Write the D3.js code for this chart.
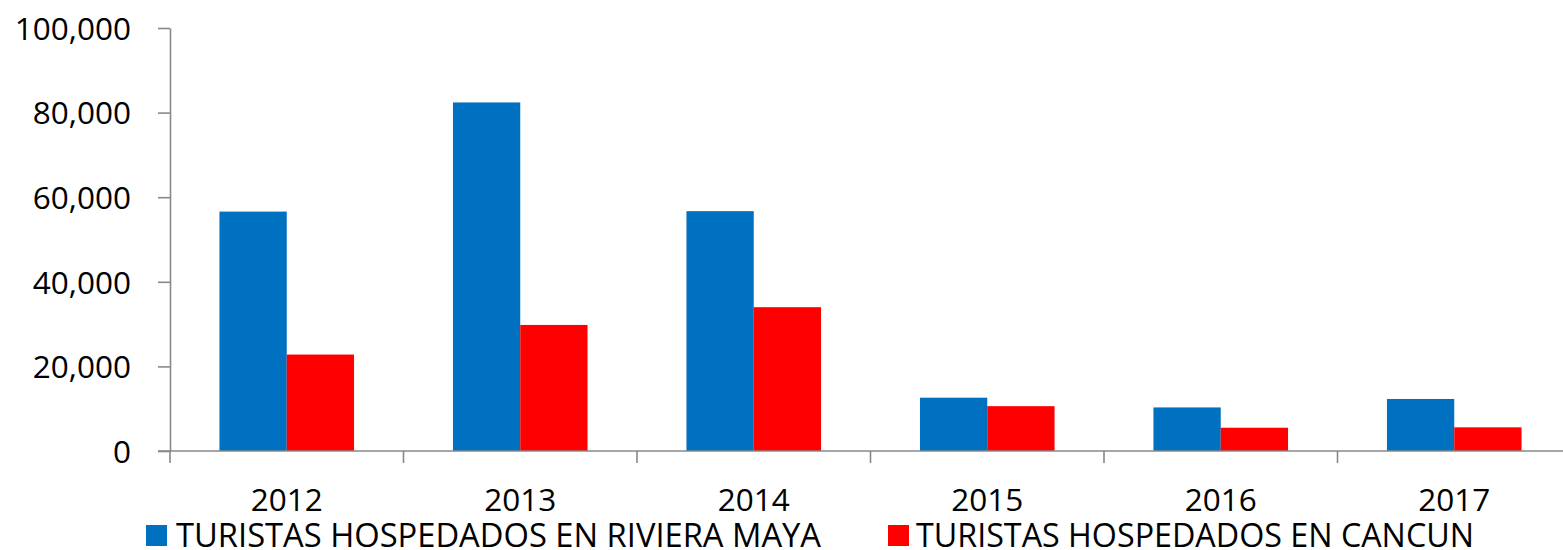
<!DOCTYPE html>
<html>
<head>
<meta charset="utf-8">
<script src="https://cdn.jsdelivr.net/npm/d3@7"></script>
<style>
  html, body { margin: 0; padding: 0; background: #fff; }
  svg { display: block; font-family: "Open Sans", "Noto Sans", sans-serif; }
</style>
</head>
<body>
<svg id="chart" width="1563" height="550"></svg>
<script>
const years = ["2012", "2013", "2014", "2015", "2016", "2017"];
const seriesNames = ["TURISTAS HOSPEDADOS EN RIVIERA MAYA", "TURISTAS HOSPEDADOS EN CANCUN"];
const rivieraMaya = [56600, 82400, 56700, 12600, 10300, 12300];
const cancun = [22800, 29800, 34000, 10600, 5500, 5600];
const yTicks = [0, 20000, 40000, 60000, 80000, 100000];
const colors = ["#0070C0", "#FF0000"];

const svg = d3.select("#chart");
const plotLeft = 170, plotTop = 28, plotBottom = 451, catStep = 233.5;
const plotRight = plotLeft + catStep * years.length;

const x = d3.scaleBand().domain(years).range([plotLeft, plotRight]).paddingInner(0).paddingOuter(0);
const xs = d3.scaleBand().domain(seriesNames).range([0, x.bandwidth()]).paddingInner(0).paddingOuter(0.735);
const y = d3.scaleLinear().domain([0, 100000]).range([plotBottom, plotTop]);

const axisColor = "#888888";

// Y axis
const yAxis = svg.append("g")
  .attr("transform", `translate(${plotLeft},0)`)
  .call(d3.axisLeft(y).tickValues(yTicks).tickSize(12).tickSizeOuter(0).tickPadding(27).tickFormat(d3.format(",")));
yAxis.select(".domain").attr("stroke", axisColor).attr("stroke-width", 1.6);
yAxis.selectAll(".tick line").attr("stroke", axisColor).attr("stroke-width", 1.6);
yAxis.selectAll(".tick text")
  .attr("font-size", 31.5).attr("fill", "#000").attr("dy", "0.36em")
  .style("font-family", '"Open Sans", sans-serif');

// bars
const data = years.map((yr, i) => ({ year: yr, vals: [rivieraMaya[i], cancun[i]] }));
const groups = svg.append("g").selectAll("g").data(data).join("g")
  .attr("transform", d => `translate(${x(d.year)},0)`);
groups.selectAll("rect").data(d => d.vals.map((v, j) => ({ name: seriesNames[j], v, j })))
  .join("rect")
  .attr("x", d => xs(d.name))
  .attr("width", xs.bandwidth())
  .attr("y", d => y(d.v))
  .attr("height", d => y(0) - y(d.v))
  .attr("fill", d => colors[d.j]);

// X axis line and tick marks at category boundaries
const xAxisG = svg.append("g");
xAxisG.append("line")
  .attr("x1", plotLeft - 12).attr("x2", plotRight)
  .attr("y1", y(0)).attr("y2", y(0))
  .attr("stroke", axisColor).attr("stroke-width", 1.6);
xAxisG.selectAll("line.tk").data(years).join("line").attr("class", "tk")
  .attr("x1", d => x(d)).attr("x2", d => x(d))
  .attr("y1", y(0)).attr("y2", y(0) + 12)
  .attr("stroke", axisColor).attr("stroke-width", 1.6);
xAxisG.selectAll("text").data(years).join("text")
  .attr("x", d => x(d) + x.bandwidth() / 2)
  .attr("y", 511)
  .attr("text-anchor", "middle")
  .attr("font-size", 31.5)
  .attr("fill", "#000")
  .text(d => d);

// Legend
const legendItems = [
  { name: seriesNames[0], color: colors[0], mx: 146, tx: 176, tw: 645 },
  { name: seriesNames[1], color: colors[1], mx: 888, tx: 916, tw: 558 }
];
const lg = svg.append("g").selectAll("g").data(legendItems).join("g");
lg.append("rect")
  .attr("x", d => d.mx).attr("y", 525).attr("width", 21).attr("height", 21)
  .attr("fill", d => d.color);
lg.append("text")
  .attr("x", d => d.tx).attr("y", 546.5)
  .attr("font-size", 32)
  .attr("fill", "#000")
  .attr("textLength", d => d.tw)
  .attr("lengthAdjust", "spacingAndGlyphs")
  .text(d => d.name);
</script>
</body>
</html>
